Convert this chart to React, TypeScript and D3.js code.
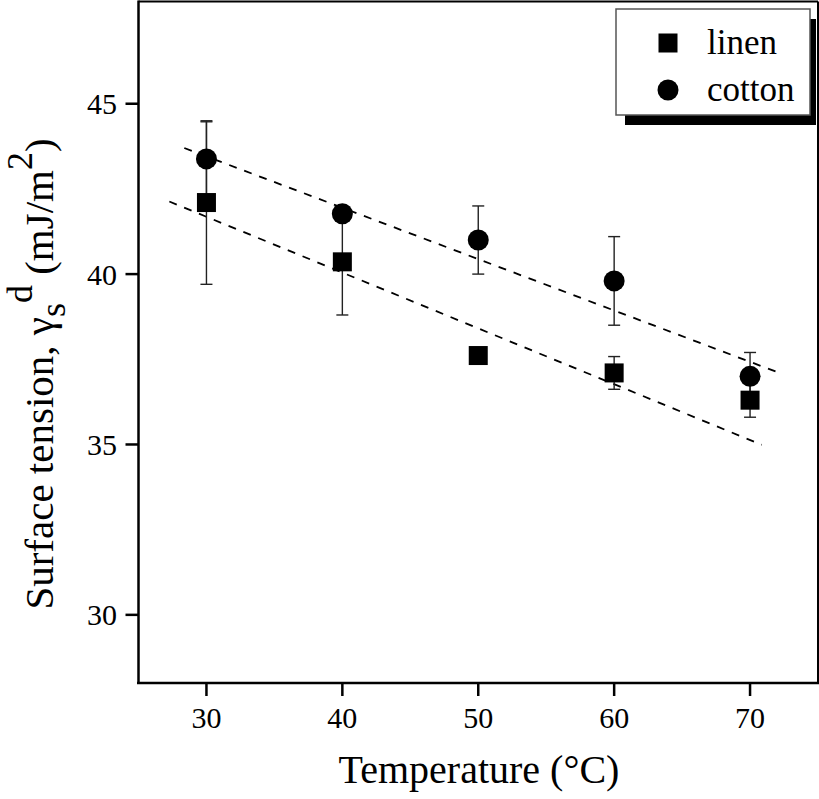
import React from "react";
import * as d3 from "d3";

const temps = [30, 40, 50, 60, 70];
const linen = [42.1, 40.36, 37.61, 37.1, 36.3];
const linenErr = [2.4, 1.56, 0.1, 0.48, 0.5];
const cotton = [43.38, 41.77, 41.0, 39.8, 37.0];
const cottonErr = [1.09, 0.2, 1.0, 1.3, 0.7];
const linenFit: [number, number][] = [[27.27, 42.13], [70.86, 34.99]];
const cottonFit: [number, number][] = [[28.37, 43.7], [71.96, 37.13]];
const xTicks = [30, 40, 50, 60, 70];
const yTicks = [30, 35, 40, 45];
const legendLabels = ["linen", "cotton"];

const W = 819;
const H = 799;
const FONT = "Liberation Serif, Times New Roman, Times, serif";

export default function App() {
  const x = d3.scaleLinear().domain([25, 75]).range([138.5, 818]);
  const y = d3.scaleLinear().domain([28, 48]).range([683, 1.5]);
  const line = d3.line<[number, number]>().x(d => x(d[0])).y(d => y(d[1]));
  const sq = 19;
  const r = 10.5;
  const cap = 6;
  const ts = { fontFamily: FONT };

  const errBars = (vals: number[], errs: number[], key: string) =>
    temps.map((t, i) => {
      const cx = x(t);
      const y1 = y(vals[i] + errs[i]);
      const y2 = y(vals[i] - errs[i]);
      return (
        <g key={key + i} stroke="#222" strokeWidth={1.4}>
          <line x1={cx} x2={cx} y1={y1} y2={y2} />
          <line x1={cx - cap} x2={cx + cap} y1={y1} y2={y1} />
          <line x1={cx - cap} x2={cx + cap} y1={y2} y2={y2} />
        </g>
      );
    });

  const lg = { x: 616, y: 9, w: 194, h: 106 };
  const lgMarkX = 668;
  const lgRows = [43, 90];
  const lgTextX = 707;

  return (
    <svg width={W} height={H} style={{ position: "absolute", left: 0, top: 0, background: "#fff", fontFamily: FONT }}>
      <rect x={0} y={0} width={W} height={H} fill="#fff" />
      <path d={line(linenFit) || ""} fill="none" stroke="#000" strokeWidth={1.8} strokeDasharray="8,8" />
      <path d={line(cottonFit) || ""} fill="none" stroke="#000" strokeWidth={1.8} strokeDasharray="8,8" />
      {errBars(linen, linenErr, "le")}
      {errBars(cotton, cottonErr, "ce")}
      {temps.map((t, i) => (
        <rect key={"ls" + i} x={x(t) - sq / 2} y={y(linen[i]) - sq / 2} width={sq} height={sq} fill="#000" />
      ))}
      {temps.map((t, i) => (
        <circle key={"cc" + i} cx={x(t)} cy={y(cotton[i])} r={r} fill="#000" />
      ))}
      <line x1={138.5} x2={818} y1={1.5} y2={1.5} stroke="#000" strokeWidth={2} />
      <line x1={818} x2={818} y1={1.5} y2={683} stroke="#000" strokeWidth={2} />
      <line x1={138.5} x2={138.5} y1={0.5} y2={684} stroke="#000" strokeWidth={2.5} />
      <line x1={137} x2={819} y1={683} y2={683} stroke="#000" strokeWidth={2.5} />
      {xTicks.map(t => (
        <g key={"xt" + t}>
          <line x1={x(t)} x2={x(t)} y1={683} y2={696} stroke="#000" strokeWidth={2.5} />
          <text style={ts} x={x(t)} y={728} fontSize={30} textAnchor="middle" fill="#000">{t}</text>
        </g>
      ))}
      {yTicks.map(t => (
        <g key={"yt" + t}>
          <line x1={125.5} x2={138.5} y1={y(t)} y2={y(t)} stroke="#000" strokeWidth={2.5} />
          <text style={ts} x={117} y={y(t)} dy="0.35em" fontSize={30} textAnchor="end" fill="#000">{t}</text>
        </g>
      ))}
      <text style={ts} x={479} y={783} fontSize={40} textAnchor="middle" fill="#000">Temperature (°C)</text>
      <text style={ts} transform="translate(53,374) rotate(-90)" textAnchor="middle" fontSize={41} fill="#000">
        <tspan>Surface tension, γ</tspan>
        <tspan fontSize={36} dy={12}>s</tspan>
        <tspan fontSize={36} dy={-33}>d</tspan>
        <tspan dy={21}> (mJ/m</tspan>
        <tspan fontSize={36} dy={-21}>2</tspan>
        <tspan dy={21}>)</tspan>
      </text>
      <rect x={lg.x + 9} y={lg.y + 10} width={lg.w - 3} height={lg.h} fill="#000" />
      <rect x={lg.x} y={lg.y} width={lg.w} height={lg.h} fill="#fff" stroke="#555" strokeWidth={1.5} />
      <rect x={lgMarkX - sq / 2} y={lgRows[0] - sq / 2} width={sq} height={sq} fill="#000" />
      <circle cx={lgMarkX} cy={lgRows[1]} r={r} fill="#000" />
      {legendLabels.map((l, i) => (
        <text style={ts} key={l} x={lgTextX} y={lgRows[i] + 11} fontSize={35} fill="#000">{l}</text>
      ))}
    </svg>
  );
}
